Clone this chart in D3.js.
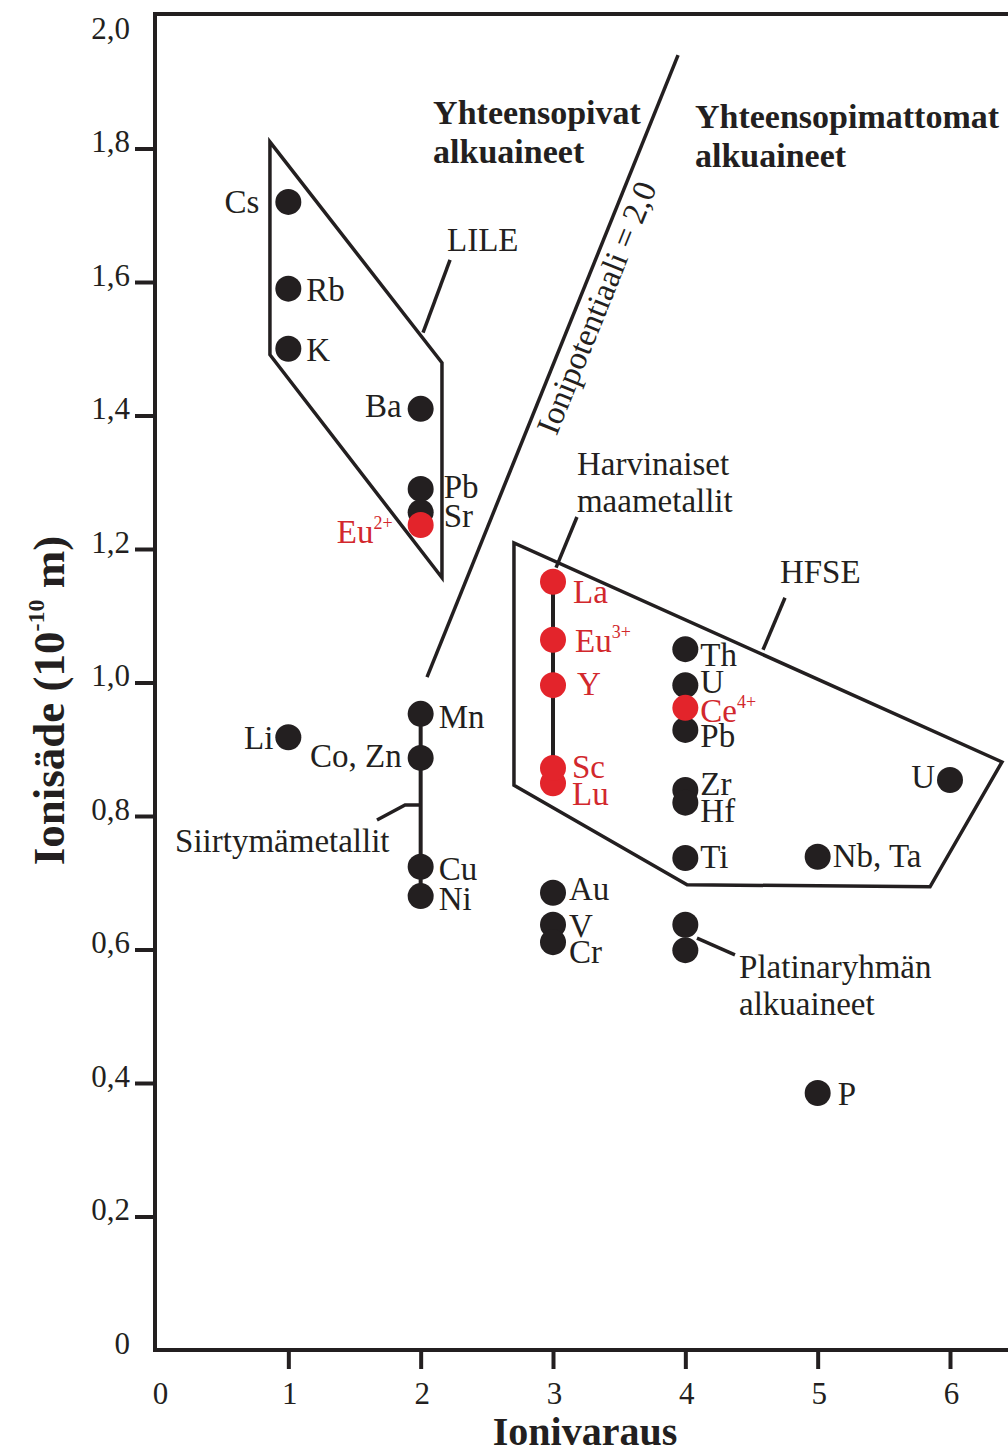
<!DOCTYPE html>
<html>
<head>
<meta charset="utf-8">
<script src="https://cdn.jsdelivr.net/npm/d3@7"></script>
<style>
  body { margin: 0; background: #fff; }
  svg { display: block; font-family: "Liberation Serif", "Times New Roman", serif; }
</style>
</head>
<body>
<svg id="drawing_region"></svg>
<script>
// ionic charge (x) and ionic radius in 1e-10 m (y)
const elements = ["Cs", "Rb", "K", "Ba", "Pb", "Sr", "Eu", "Li", "Mn", "Co, Zn", "Cu", "Ni",
                  "La", "Eu", "Y", "Lu", "Sc", "Th", "U", "Pb", "Ce", "Zr", "Hf", "Ti",
                  "Au", "V", "Cr", "", "", "Nb, Ta", "U", "P"];
const charges = [1, 1, 1, 2, 2, 2, 2, 1, 2, 2, 2, 2,
                 3, 3, 3, 3, 3, 4, 4, 4, 4, 4, 4, 4,
                 3, 3, 3, 4, 4, 5, 6, 5];
const radii = [1.72, 1.59, 1.50, 1.41, 1.29, 1.255, 1.236, 0.918, 0.953, 0.887, 0.724, 0.680,
               1.151, 1.064, 0.996, 0.849, 0.872, 1.050, 0.996, 0.929, 0.962, 0.839, 0.820, 0.737,
               0.685, 0.637, 0.611, 0.637, 0.599, 0.739, 0.854, 0.385];
const superscripts = ["", "", "", "", "", "", "2+", "", "", "", "", "",
                      "", "3+", "", "", "", "", "", "", "4+", "", "", "",
                      "", "", "", "", "", "", "", ""];
const rareEarth = [false, false, false, false, false, false, true, false, false, false, false, false,
                   true, true, true, true, true, false, false, false, true, false, false, false,
                   false, false, false, false, false, false, false, false];

const xTicks = [0, 1, 2, 3, 4, 5, 6];
const yTicks = [0, 0.2, 0.4, 0.6, 0.8, 1.0, 1.2, 1.4, 1.6, 1.8, 2.0];

// field outlines and guide lines, in (charge, radius)
const lilePolygon = [[0.861, 1.81], [0.861, 1.491], [2.161, 1.157], [2.161, 1.479]];
const hfsePolygon = [[2.705, 1.209], [2.705, 0.846], [4.013, 0.697], [5.849, 0.694], [6.393, 0.881]];
const ionicPotentialLine = [[2.048, 1.008], [3.945, 1.940]];
const leaders = [
  [[2.018, 1.524], [2.222, 1.633]],               // LILE
  [[4.587, 1.049], [4.753, 1.127]],               // HFSE
  [[3.023, 1.172], [3.181, 1.248]],               // REE
  [[2.010, 0.8165], [1.882, 0.8165], [1.670, 0.794]], // transition metals
  [[4.088, 0.617], [4.375, 0.592]]                // PGE
];

// label placement next to each point: anchor side, dx, dy (px)
const labelLayout = [
  ["end", -29, 11], ["start", 18, 12], ["start", 18, 12], ["end", -19, 8], ["start", 23, 9], ["start", 23, 15],
  ["end", -28, 18], ["end", -15, 12], ["start", 18, 14], ["end", -19, 9], ["start", 18, 13], ["start", 18, 14],
  ["start", 20, 21], ["start", 22, 12], ["start", 24, 10], ["start", 19, 22], ["start", 19, 10],
  ["start", 15, 17], ["start", 15, 8], ["start", 15, 17], ["start", 15, 14], ["start", 15, 5], ["start", 15, 19],
  ["start", 15, 10], ["start", 16, 7], ["start", 16, 12], ["start", 16, 21], ["start", 0, 0], ["start", 0, 0],
  ["start", 15, 10], ["end", -15, 8], ["start", 20, 12]
];

const annotations = [
  { lines: ["Yhteensopivat", "alkuaineet"], at: [2.094, 1.837], bold: true, lh: 39 },
  { lines: ["Yhteensopimattomat", "alkuaineet"], at: [4.073, 1.831], bold: true, lh: 39 },
  { lines: ["LILE"], at: [2.199, 1.646] },
  { lines: ["HFSE"], at: [4.715, 1.149] },
  { lines: ["Harvinaiset", "maametallit"], at: [3.181, 1.311], lh: 37 },
  { lines: ["Siirtymämetallit"], at: [0.144, 0.746] },
  { lines: ["Platinaryhmän", "alkuaineet"], at: [4.406, 0.557], lh: 37 }
];

const ink = '#231f20';
const red = '#e3242b';
const redText = '#d2282d';

const width = 1008, height = 1453;
const svg = d3.select('#drawing_region').attr('width', width).attr('height', height);

const x = d3.scaleLinear().domain([0, 6]).range([156, 950]);
const y = d3.scaleLinear().domain([0, 2]).range([1350, 15]);

const line = d3.line().x(d => x(d[0])).y(d => y(d[1]));
const comma = d3.formatLocale({ decimal: ",", thousands: " ", grouping: [3], currency: ["", ""] }).format(".1f");

// frame: left axis, top border, bottom axis
svg.append('path')
  .attr('d', `M${width},${y(2) - 1}H${x(0) - 1}V${y(0)}H${width}`)
  .attr('fill', 'none').attr('stroke', ink).attr('stroke-width', 4);

// y axis
const yAxis = svg.append('g')
  .attr('transform', `translate(${x(0) - 1},0)`)
  .call(d3.axisLeft(y).tickValues(yTicks).tickSize(20).tickPadding(5)
    .tickFormat(d => d === 0 ? "0" : comma(d)))
  .attr('font-family', null).attr('font-size', null);
yAxis.select('.domain').remove();
yAxis.selectAll('.tick line').attr('stroke', ink).attr('stroke-width', 4)
  .filter(d => d === 0 || d === 2).remove();
yAxis.selectAll('.tick text')
  .attr('fill', ink).style('font-size', '31px')
  .attr('dy', d => d === 2 ? '0.75em' : '0.1em');

// x axis
const xAxis = svg.append('g')
  .attr('transform', `translate(0,${y(0)})`)
  .call(d3.axisBottom(x).tickValues(xTicks).tickSize(19).tickPadding(13).tickFormat(d3.format('d')))
  .attr('font-family', null).attr('font-size', null);
xAxis.select('.domain').remove();
xAxis.selectAll('.tick line').attr('stroke', ink).attr('stroke-width', 4)
  .filter(d => d === 0).remove();
xAxis.selectAll('.tick text')
  .attr('fill', ink).style('font-size', '31px')
  .attr('dx', d => d === 0 ? 4 : 1);

// axis titles
svg.append('text')
  .attr('x', 585).attr('y', 1445)
  .attr('text-anchor', 'middle')
  .style('font-size', '40px').style('font-weight', 'bold').attr('fill', ink)
  .text('Ionivaraus');

const yTitle = svg.append('text')
  .attr('transform', `translate(64,${y(1.0) + 18}) rotate(-90)`)
  .attr('text-anchor', 'middle')
  .style('font-size', '45px').style('font-weight', 'bold').attr('fill', ink);
yTitle.append('tspan').text('Ionisäde (10');
yTitle.append('tspan').attr('dy', -20).style('font-size', '24px').text('-10');
yTitle.append('tspan').attr('dy', 20).text(' m)');

// field outlines
svg.append('path').attr('d', line(lilePolygon) + 'Z')
  .attr('fill', 'none').attr('stroke', ink).attr('stroke-width', 3.5).attr('stroke-linejoin', 'miter');
svg.append('path').attr('d', line(hfsePolygon) + 'Z')
  .attr('fill', 'none').attr('stroke', ink).attr('stroke-width', 3.5).attr('stroke-linejoin', 'miter');

// ionic potential = 2 line with its label
svg.append('path').attr('d', line(ionicPotentialLine))
  .attr('fill', 'none').attr('stroke', ink).attr('stroke-width', 3.5);
const p0 = ionicPotentialLine[0], p1 = ionicPotentialLine[1];
const angle = Math.atan2(y(p1[1]) - y(p0[1]), x(p1[0]) - x(p0[0])) * 180 / Math.PI;
const tStart = 0.405;
const lx = x(p0[0] + (p1[0] - p0[0]) * tStart), ly = y(p0[1] + (p1[1] - p0[1]) * tStart);
svg.append('text')
  .attr('transform', `translate(${lx},${ly}) rotate(${angle})`)
  .attr('y', 30)
  .style('font-size', '33px').attr('fill', ink)
  .text('Ionipotentiaali = 2,0');

// leader lines
svg.selectAll('.leader').data(leaders).join('path')
  .attr('class', 'leader')
  .attr('d', d => line(d))
  .attr('fill', 'none').attr('stroke', ink).attr('stroke-width', 3.5);

// group connectors: REE at charge 3, transition metals at charge 2
const points = elements.map((e, i) => ({ name: e, z: charges[i], r: radii[i], sup: superscripts[i], ree: rareEarth[i], lab: labelLayout[i] }));
const reeCol = points.filter(d => d.ree && d.z === 3);
const tmCol = points.filter(d => ["Mn", "Co, Zn", "Cu", "Ni"].includes(d.name));
[reeCol, tmCol].forEach(col => {
  svg.append('line')
    .attr('x1', x(col[0].z)).attr('x2', x(col[0].z))
    .attr('y1', y(d3.max(col, d => d.r))).attr('y2', y(d3.min(col, d => d.r)))
    .attr('stroke', ink).attr('stroke-width', 4);
});

// points
svg.selectAll('.pt').data(points).join('circle')
  .attr('class', 'pt')
  .attr('cx', d => x(d.z)).attr('cy', d => y(d.r)).attr('r', 13)
  .attr('fill', d => d.ree ? red : ink);

// point labels
const labels = svg.selectAll('.lab').data(points.filter(d => d.name !== '')).join('text')
  .attr('class', 'lab')
  .attr('x', d => x(d.z) + d.lab[1]).attr('y', d => y(d.r) + d.lab[2])
  .attr('text-anchor', d => d.lab[0])
  .style('font-size', '33px')
  .attr('fill', d => d.ree ? redText : ink);
labels.append('tspan').text(d => d.name);
labels.filter(d => d.sup !== '').append('tspan')
  .attr('dy', -14).style('font-size', '18px').text(d => d.sup);

// annotations
annotations.forEach(a => {
  const t = svg.append('text')
    .attr('x', x(a.at[0])).attr('y', y(a.at[1]))
    .style('font-size', a.bold ? '34px' : '33px')
    .style('font-weight', a.bold ? 'bold' : 'normal')
    .attr('fill', ink);
  a.lines.forEach((s, i) => {
    t.append('tspan').attr('x', x(a.at[0])).attr('dy', i === 0 ? 0 : a.lh).text(s);
  });
});
</script>
</body>
</html>
